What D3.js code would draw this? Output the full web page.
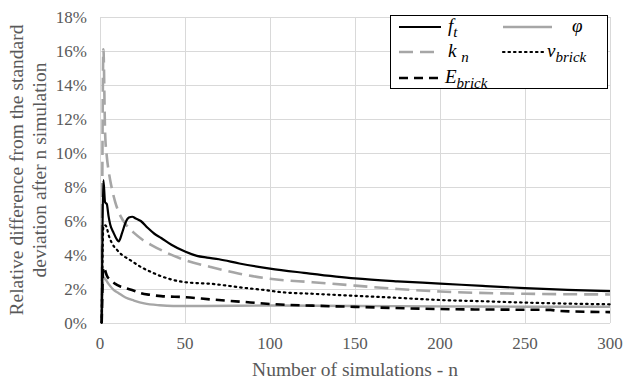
<!DOCTYPE html>
<head>
<meta charset="utf-8">
<style>
body, html { margin: 0; padding: 0; background: #fff; }
svg, svg text { font-family: "Liberation Serif", "Times New Roman", "DejaVu Serif", serif; }
.grid line { stroke: #d9d9d9; stroke-width: 1; }
.tick-label { fill: #595959; font-size: 17px; }
.axis-title { fill: #595959; font-size: 19.5px; }
.leg text { font-style: italic; font-size: 19px; fill: #000; }
</style>
<script src="https://d3js.org/d3.v7.min.js"></script>
</head>
<body>
<script>

// ---- data: [n, relative difference %] ----
var ftData = [[1,0],[2,8.4],[3,7.1],[4,7.0],[5,6.3],[6,5.8],[8,5.3],[10,4.9],[11,4.8],[13,5.3],[15,5.9],[17,6.2],[19,6.25],[21,6.15],[24,6.0],[28,5.6],[32,5.25],[36,5.0],[42,4.6],[50,4.2],[57,3.95],[63,3.85],[70,3.75],[82,3.5],[100,3.2],[120,2.95],[150,2.62],[175,2.45],[200,2.32],[225,2.18],[250,2.05],[275,1.95],[300,1.87]];
var knData = [[1,0],[2,16.1],[3,11.2],[4,9.8],[5,9.0],[6,8.4],[7,7.9],[9,7.1],[12,6.3],[16,5.7],[20,5.3],[25,4.9],[30,4.6],[40,4.1],[50,3.7],[65,3.3],[82,2.9],[100,2.6],[125,2.4],[150,2.2],[175,2.0],[200,1.85],[250,1.72],[300,1.68]];
var phiData = [[1,0],[2,2.7],[3,2.6],[5,2.3],[8,1.95],[11,1.75],[15,1.5],[20,1.32],[26,1.15],[35,1.04],[43,1.0],[60,1.0],[100,1.03],[150,1.0],[200,0.98],[250,0.96],[300,0.96]];
var vbData = [[1,0],[2,5.7],[3,5.75],[4,5.6],[5,5.2],[7,4.7],[10,4.3],[13,4.0],[17,3.75],[24,3.3],[30,3.0],[36,2.75],[50,2.4],[66,2.3],[82,2.1],[100,1.9],[106,1.82],[125,1.72],[150,1.6],[175,1.48],[200,1.35],[225,1.28],[250,1.2],[275,1.14],[300,1.1]];
var ebData = [[1,0],[2,3.3],[3,3.1],[4,2.8],[6,2.55],[9,2.3],[12,2.15],[15,2.05],[20,1.9],[24,1.75],[30,1.65],[36,1.58],[50,1.52],[66,1.38],[82,1.26],[100,1.12],[125,1.02],[150,0.95],[200,0.82],[250,0.78],[265,0.77],[270,0.71],[300,0.64]];

var xTicks = [0, 50, 100, 150, 200, 250, 300];
var yTicks = [0, 2, 4, 6, 8, 10, 12, 14, 16, 18];

var width = 633, height = 380;
var margin = {left: 100, right: 23, top: 17, bottom: 57};

var svg = d3.select("body").append("svg")
    .attr("width", width)
    .attr("height", height)
    .attr("font-family", "'Liberation Serif', 'Times New Roman', serif");

var x = d3.scaleLinear().domain([0, 300]).range([margin.left, width - margin.right]);
var y = d3.scaleLinear().domain([0, 18]).range([height - margin.bottom, margin.top]);

// gridlines
var grid = svg.append("g").attr("class", "grid");
grid.selectAll("line.h").data(yTicks).enter().append("line")
    .attr("x1", x(0)).attr("x2", x(300))
    .attr("y1", function(d) { return Math.round(y(d)) + 0.5; })
    .attr("y2", function(d) { return Math.round(y(d)) + 0.5; });
grid.selectAll("line.v").data(xTicks).enter().append("line")
    .attr("y1", y(0)).attr("y2", y(18))
    .attr("x1", function(d) { return Math.round(x(d)) + 0.5; })
    .attr("x2", function(d) { return Math.round(x(d)) + 0.5; });

// tick labels
svg.append("g").selectAll("text").data(yTicks).enter().append("text")
    .attr("class", "tick-label")
    .attr("x", 87)
    .attr("y", function(d) { return y(d) + 6; })
    .attr("text-anchor", "end")
    .text(function(d) { return d + "%"; });

svg.append("g").selectAll("text").data(xTicks).enter().append("text")
    .attr("class", "tick-label")
    .attr("x", function(d) { return x(d); })
    .attr("y", 349)
    .attr("text-anchor", "middle")
    .text(function(d) { return d; });

// axis titles
svg.append("text").attr("class", "axis-title")
    .attr("x", 355).attr("y", 376)
    .attr("text-anchor", "middle")
    .text("Number of simulations - n");

var yt = svg.append("text").attr("class", "axis-title")
    .attr("transform", "translate(23,170) rotate(-90)")
    .attr("text-anchor", "middle");
yt.append("tspan").attr("x", 0).attr("dy", 0).text("Relative difference from the standard");
yt.append("tspan").attr("x", 0).attr("dy", 23).text("deviation after n simulation");

// series
var series = [
  {key: "phi", data: phiData, color: "#a6a6a6", w: 2.4, dash: null},
  {key: "kn",  data: knData,  color: "#a6a6a6", w: 2.6, dash: "14,7"},
  {key: "vb",  data: vbData,  color: "#000", w: 2.2, dash: "1.5,4"},
  {key: "eb",  data: ebData,  color: "#000", w: 2.6, dash: "9,6"},
  {key: "ft",  data: ftData,  color: "#000", w: 2.2, dash: null}
];

var line = d3.line()
    .x(function(d) { return x(d[0]); })
    .y(function(d) { return y(d[1]); })
    .curve(d3.curveMonotoneX);

svg.append("g").selectAll("path").data(series).enter().append("path")
    .attr("d", function(d) { return line(d.data); })
    .attr("fill", "none")
    .attr("stroke", function(d) { return d.color; })
    .attr("stroke-width", function(d) { return d.w; })
    .attr("stroke-dasharray", function(d) { return d.dash; })
    .attr("stroke-linecap", function(d) { return d.key == "vb" ? "round" : "butt"; })
    .attr("stroke-linejoin", "round");

// legend
var leg = svg.append("g").attr("class", "leg");
leg.append("rect")
    .attr("x", 390.5).attr("y", 15.5).attr("width", 217).attr("height", 73)
    .attr("fill", "#fff").attr("stroke", "#000").attr("stroke-width", 1);

var legItems = [
  {s: series[4], x1: 399, x2: 441, y: 27, tx: 448, main: "f", sub: "t"},
  {s: series[0], x1: 503, x2: 552, y: 27, tx: 572, main: "\u03c6", sub: ""},
  {s: series[1], x1: 399, x2: 441, y: 52, tx: 448, main: "k ", sub: "n"},
  {s: series[2], x1: 503, x2: 543, y: 52, tx: 547, main: "v", sub: "brick"},
  {s: series[3], x1: 399, x2: 441, y: 78, tx: 445, main: "E", sub: "brick"}
];

legItems.forEach(function(it) {
  leg.append("line")
    .attr("x1", it.x1).attr("x2", it.x2).attr("y1", it.y).attr("y2", it.y)
    .attr("stroke", it.s.color)
    .attr("stroke-width", it.s.w)
    .attr("stroke-dasharray", it.s.dash)
    .attr("stroke-linecap", it.s.key == "vb" ? "round" : "butt");
  var t = leg.append("text").attr("x", it.tx).attr("y", it.y + 5);
  t.append("tspan").text(it.main);
  if (it.sub) t.append("tspan").attr("dy", 5).attr("font-size", 15).text(it.sub);
});

</script>
</body>
</html>
